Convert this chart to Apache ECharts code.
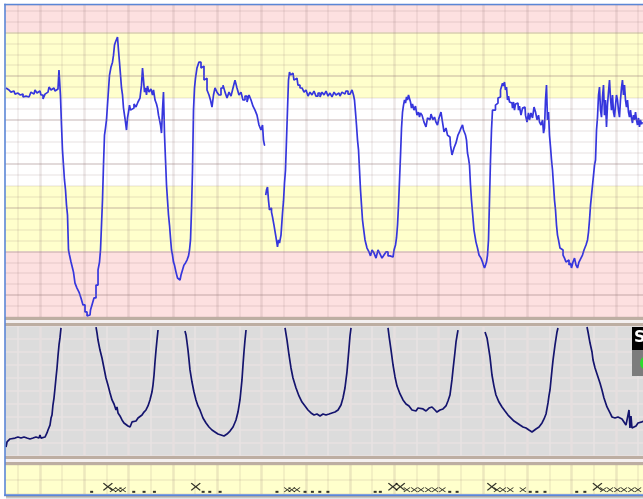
<!DOCTYPE html>
<html>
<head>
<meta charset="utf-8">
<style>
  html, body { margin: 0; padding: 0; background: #ffffff; }
  #chart { width: 643px; height: 499px; }
</style>
<script src="https://cdn.jsdelivr.net/npm/echarts@6/dist/echarts.min.js"></script>
</head>
<body>
<div id="chart"></div>
<script>
// Fetal heart rate, [time s, bpm]; null = signal loss
const fhrTrace = [
  [14,154.6],[16.7,153.7],[19.4,154.1],[22.1,152.7],[24.8,153.2],[27.5,151.8],[30.2,152.3],[33,151.4],[35.7,151.8],[38.4,150.5],[41.1,150.9],[43.8,150.5],[46.5,151.4],[49.2,152.7],[51.9,151.8],[54.6,153.7],[57.3,152.3],[60,153.2],[62.8,151.4],[65.5,149.6],[68.2,151.8],[70.9,152.7],[73.6,155],[76.3,153.7],[79,154.6],[81.7,153.2],[84.4,154.1],[87.1,162.8],[88.5,150.9],[89.8,137.7],[91.2,126.3],[92.5,119.4],[93.9,112.6],[95.3,108],[96.6,101.1],[98,96.6],[99.3,80.6],[100.7,78.3],[103.4,75.1],[104.7,72.4],[106.1,70.5],[108.8,65.5],[111.5,63.2],[114.2,61.4],[116.9,58.7],[119.6,55.5],[122.4,52.3],[125.1,50.5],[127.8,50.9],[129.1,53.2],[131.8,55.5],[134.5,58.7],[137.3,64.6],[140,71.5],[141.3,75.1],[142.7,80.6],[144,92],[145.4,103.4],[146.7,119.4],[148.1,133.1],[149.4,136.3],[150.8,140],[152.1,146.8],[153.5,153.7],[154.9,160.5],[157.6,164.2],[158.9,166.4],[160.3,169.6],[161.6,174.2],[163,175.6],[164.3,176.5],[165.7,177.9],[167,171.9],[168.4,166.4],[169.8,160.5],[171.1,154.6],[172.5,151.4],[173.8,145.4],[175.2,142.2],[176.5,139],[177.9,135.4],[179.2,140.9],[180.6,143.6],[182,146.8],[183.3,144.5],[184.7,143.6],[186,145.4],[188.7,147.3],[191.4,145.9],[194.1,148.2],[196.8,150],[198.2,155.9],[199.6,163.7],[200.9,158.2],[202.3,152.7],[203.6,154.6],[205,151.4],[206.3,155.5],[209,152.7],[211.7,154.1],[213.1,151.4],[214.5,153.7],[217.2,149.1],[218.5,147.3],[219.9,145.4],[221.2,142.2],[222.6,140],[223.9,137.7],[225.3,134],[226.6,144.5],[228,152.7],[229.4,133.1],[230.7,121.7],[232.1,110.3],[233.4,103.4],[234.8,96.6],[236.1,92],[237.5,86.1],[238.8,80.6],[240.2,78.3],[241.5,75.1],[242.9,73.7],[245.6,70.5],[247,67.8],[249.7,66.9],[252.4,69.2],[253.7,71.5],[256.4,73.7],[257.8,74.7],[260.5,76],[261.9,77.9],[263.2,80.6],[264.6,85.2],[265.9,98.9],[267.3,117.1],[268.6,144.5],[270,154.6],[271.3,159.1],[274,163.7],[276.7,166.4],[279.5,163.7],[280.8,164.6],[283.5,158.2],[284.9,159.1],[287.6,153.7],[290.3,151.4],[291.6,149.1],[294.4,145.9],[295.7,151.4],[298.4,154.6],[301.1,152.7],[303.8,151.4],[306.6,154.6],[309.3,155.9],[312,152.7],[314.7,150],[317.4,152.7],[320.1,150.9],[322.8,154.6],[325.5,158.2],[328.2,154.6],[330.9,151.4],[333.6,152.7],[336.3,149.1],[339.1,150.9],[341.8,148.2],[344.5,151.4],[347.2,149.1],[349.9,146.3],[352.6,144.5],[355.3,142.2],[358,137.7],[360.7,135.4],[362.1,137.7],[363.4,130.8],[364.8,128.5],
  [365.4,null],
  [366.1,105.7],[367.5,108],[368.8,109.4],[370.2,103.4],[371.5,98.9],[372.9,99.8],[374.3,97.9],[375.6,95.7],[378.3,92],[381,86.5],[382.4,82],[383.8,85.2],[385.1,83.8],[387.8,87.4],[389.2,97.5],[390.5,102.9],[391.9,111.2],[393.2,117.1],[394.6,130.8],[395.9,144.5],[397.3,158.2],[398.7,161.9],[400,160.5],[402.7,161.4],[405.4,158.2],[408.1,159.1],[410.8,155.9],[413.6,154.6],[416.3,155.5],[419,152.7],[421.7,153.7],[424.4,150.9],[427.1,152.7],[429.8,151.4],[432.5,153.2],[435.2,150.9],[438,152.3],[440.7,150.5],[443.4,152.7],[446.1,151.4],[448.8,153.2],[451.5,150.9],[454.2,152.3],[456.9,150.5],[459.6,152.7],[462.3,151.4],[465,152.3],[467.7,150.9],[470.4,152.7],[473.1,151.8],[475.8,153.2],[478.6,151.8],[481.3,152.7],[484,153.7],[485.3,151.4],[486.7,149.1],[488,143.6],[489.4,137.7],[490.8,130.8],[492.1,126.3],[493.5,117.1],[494.8,108],[496.2,101.1],[497.5,94.3],[498.9,90.6],[501.6,85.2],[504.3,81.5],[507,79.7],[508.4,77.9],[511.1,80.6],[513.8,79.2],[516.5,76.9],[519.2,80.6],[521.9,78.8],[524.6,76.9],[527.3,78.3],[530,79.7],[532.8,77.9],[535.5,78.8],[538.2,77.4],[540.9,80.6],[542.2,82.9],[543.6,86.1],[545,92],[546.3,101.1],[547.7,112.6],[549,124],[550.4,136.3],[551.7,143.6],[553.1,146.8],[554.4,149.1],[555.8,147.7],[557.1,150.5],[558.5,149.1],[559.8,151.4],[561.2,152.3],[562.5,148.2],[563.9,145.4],[565.2,147.3],[567.9,144.5],[569.3,146.3],[572,142.2],[573.4,143.6],[574.7,141.3],[576.1,143.2],[578.8,142.2],[581.5,139],[584.2,136.8],[585.6,140.9],[588.3,140],[591,142.7],[593.7,140],[595,141.3],[597.7,139],[599.1,137.7],[601.8,140.9],[604.5,143.6],[605.9,139],[608.6,134.5],[611.3,136.3],[612.6,133.1],[615.3,132.2],[616.7,128.5],[619.4,124],[622.1,127.2],[624.8,129.5],[627.5,133.1],[628.9,134.5],[631.6,136.3],[633,137.7],[634.3,135.4],[635.7,136.3],[637,133.1],[638.4,130.8],[639.7,124.9],[641.1,122.6],[642.4,119.4],[643.8,110.3],[645.1,103.4],[646.5,97.9],[649.2,89.7],[651.9,84.2],[653.3,81.5],[656,78.3],[658.7,76.9],[660,75.1],[661.4,73.7],[662.8,72.4],[664.1,73.7],[665.5,75.1],[666.8,78.3],[668.2,85.2],[669.5,103.4],[670.9,121.7],[672.2,135.4],[673.6,144.5],[674.9,145.4],[676.3,144.5],[677.6,146.8],[679,147.7],[681.7,150],[683.1,150.5],[684.4,153.7],[685.8,154.6],[687.1,156.8],[688.5,155.5],[689.8,157.3],[691.2,153.7],[692.6,155],[693.9,149.1],[695.3,150.9],[696.6,148.2],[699.3,147.7],[700.7,145.4],[702,148.2],[703.4,144.5],[704.7,147.3],[707.4,147.7],[708.8,144.5],[710.1,146.3],[712.9,142.2],[714.2,145.4],[716.9,145.9],[718.3,142.2],[721,139],[722.3,143.2],[723.7,140],[726.4,143.2],[727.8,140.9],[730.5,145.9],[731.9,143.6],[734.6,140],[735.9,142.2],[737.3,139],[740,137.7],[741.4,140],[742.7,134],[744,136.3],[745.4,149.1],[746.7,155.9],[748.1,140],[749.4,143.6],[750.8,133.1],[752.2,127.6],[753.5,121.7],[754.9,117.1],[756.2,110.3],[757.6,103.4],[758.9,98.9],[760.3,92],[761.6,87.4],[763,85.2],[765.7,81.5],[767.1,80.6],[769.8,78.3],[771.1,76.9],[773.8,75.1],[775.2,76],[777.9,73.7],[779.2,74.7],[780.6,72.4],[783.3,75.1],[784.7,76.9],[787.4,73.7],[788.7,72.4],[791.4,75.1],[794.1,76.9],[795.5,78.3],[798.2,80.6],[800.9,82.9],[802.3,85.2],[803.6,88.8],[805,94.3],[806.4,101.1],[807.7,105.7],[809.1,110.3],[810.4,114.8],[811.8,119.4],[813.1,121.7],[814.5,135.4],[815.8,141.3],[817.2,151.4],[818.5,155],[819.9,144.5],[821.2,141.3],[822.6,150.5],[823.9,155.9],[825.3,142.2],[826.6,149.1],[828,136.8],[829.3,146.8],[830.7,152.7],[832.1,158.2],[833.4,150],[834.8,144.5],[836.1,151.4],[837.5,143.6],[838.8,141.3],[840.2,146.8],[841.5,151.4],[842.9,149.1],[844.2,144.5],[845.6,141.3],[846.9,149.1],[848.3,154.6],[849.6,158.2],[851,151.4],[852.4,155.9],[853.7,149.1],[855.1,145.9],[856.4,149.1],[857.8,143.6],[859.1,141.3],[860.5,144.5],[861.8,140.9],[863.2,138.6],[864.5,142.2],[865.9,140],[867.3,143.6],[868.6,140],[870,137.7],[871.3,140.9],[872.7,136.8],[874,140],[875.4,138.1],[876.8,139]
];

// Uterine activity, [time s, value]; null where the trace runs off scale
const ucTrace = [
  [14,6.9],[15.4,10.8],[16.7,12.3],[19.4,13.1],[22.1,12.3],[26.2,13.8],[30.2,14.6],[34.3,13.8],[38.4,14.6],[42.4,13.8],[46.5,13.1],[50.6,13.8],[54.6,14.6],[58.7,13.8],[60,16.2],[61.4,13.8],[64.1,13.1],[66.8,14.6],[69.5,17.7],[70.9,20],[73.6,23.8],[75,29.2],[76.3,31.5],[77.6,39.2],[79,44.6],[80.4,52.3],[81.7,60],[83.1,67.7],[84.4,76.9],[85.8,85.4],[87.1,90.8],[88.5,98.5],
  [110,null],
  [135.9,99.2],[137.3,94.6],[138.6,89.2],[141.3,81.5],[144,75.4],[146.7,67.7],[149.4,60],[152.1,54.6],[154.9,48.5],[157.6,43.1],[160.3,40],[163,35.4],[164.3,37.7],[165.7,33.1],[168.4,30.8],[171.1,27.7],[173.8,25.4],[176.5,24.6],[179.2,23.1],[182,22.3],[183.3,21.5],[184.7,26.2],[187.4,27.7],[190.1,26.9],[192.8,29.2],[195.5,30],[198.2,31.5],[200.9,33.8],[203.6,35.4],[206.3,38.5],[209,43.1],[211.7,49.2],[213.1,54.6],[214.5,62.3],[215.8,72.3],[217.2,81.5],[218.5,89.2],[219.9,96.9],
  [235,null],
  [256.4,96.2],[257.8,93.1],[259.1,87.7],[260.5,81.5],[261.9,73.8],[263.2,66.2],[265.9,56.9],[268.6,49.2],[271.3,43.1],[274,38.5],[276.7,35.4],[280.8,29.2],[284.9,25.4],[288.9,22.3],[293,20],[297,18.5],[301.1,16.9],[305.2,16.2],[309.3,15.4],[313.3,16.9],[317.4,19.2],[321.5,22.3],[325.5,27.7],[328.2,33.8],[330.9,43.1],[333.6,58.5],[335,70],[336.3,80],[337.7,89.2],[339.1,96.9],
  [360,null],
  [391.9,98.5],[394.6,89.2],[397.3,77.7],[400,67.7],[402.7,60],[406.8,52.3],[410.8,46.2],[414.9,41.5],[419,38.5],[423,35.4],[427.1,33.1],[431.2,31.5],[435.2,32.3],[439.3,30.8],[443.4,32.3],[447.4,31.5],[451.5,32.3],[455.5,33.1],[459.6,33.8],[463.7,35.4],[467.7,39.2],[470.4,44.6],[473.1,52.3],[475.8,64.6],[477.2,73.8],[478.6,83.1],[479.9,92.3],[481.3,98.5],
  [500,null],
  [531.4,98.5],[532.8,92.3],[535.5,81.5],[538.2,70],[540.9,60.8],[543.6,53.8],[547.7,47.7],[551.7,43.1],[555.8,40],[559.8,38.5],[563.9,35.4],[566.6,36.9],[569.3,34.6],[572,36.9],[574.7,35.4],[578.8,36.2],[582.9,34.6],[586.9,36.9],[591,37.7],[595,35.4],[597.7,33.8],[601.8,35.4],[605.9,36.2],[609.9,38.5],[612.6,42.3],[615.3,46.9],[618,58.5],[619.4,66.2],[622.1,80],[623.5,87.7],[624.8,92.3],[626.2,96.9],
  [640,null],
  [662.8,95.4],[665.5,90.8],[666.8,86.2],[669.5,76.2],[672.2,62.3],[674.9,53.8],[677.6,46.9],[681.7,41.5],[685.8,37.7],[689.8,34.6],[693.9,31.5],[698,29.2],[702,26.9],[706.1,25.4],[710.1,23.8],[714.2,22.3],[718.3,21.5],[722.3,20],[726.4,18.5],[729.1,19.2],[731.8,20.8],[735.9,22.3],[740,25.4],[742.7,28.5],[745.4,32.3],[748.1,40.8],[749.4,46.2],[750.8,50.8],[753.5,66.2],[754.9,73.8],[757.6,85.4],[760.3,95.4],[761.6,98.5],
  [780,null],
  [800.9,99.2],[802.3,95.4],[805,86.9],[807.7,80],[809.1,73.8],[811.8,67.7],[815.8,60.8],[818.5,56.2],[821.2,50.8],[823.9,44.6],[828,37.7],[832.1,33.1],[834.8,30],[838.8,29.2],[842.9,30],[845.6,30],[848.3,28.5],[851,26.2],[853.7,23.8],[856.4,24.6],[857.8,35.4],[859.1,21.5],[860.5,30.8],[861.8,21.5],[864.5,22.3],[867.3,23.1],[870,25.4],[872.7,24.6],[875.4,26.2],[876.8,26.9]
];

// Fetal movement marks (time s)
const movementMajor = [152, 271, 538, 548, 672, 815];
const movementMinor = [159, 166, 172, 395, 401, 408, 557, 567, 576, 586, 595, 605, 679, 687, 697, 714, 823, 832, 842, 851, 861, 870];
const movementDots = [130, 187, 201, 215, 281, 290, 304, 381, 419, 429, 439, 450, 514, 521, 615, 625, 724, 733, 744, 787, 798];

// Heart-rate zone limits (bpm) and heavier gridline levels
const fhrZoneLimits = [80, 110, 150, 180];
const fhrMajorLines = [60, 80, 100, 120, 140, 160, 180];

// Scale constants
const FHR_MIN = 50, FHR_MAX = 192.5, FHR_STEP = 5;
const X_MAX = 900;                 // seconds spanned by the time axis
const PX_PER_SEC = 44.3 / 60;      // paper speed
const START_SEC = 14;              // time at the left edge of the strip
const STRIP_LEFT = 6;
const gridLeft = STRIP_LEFT - START_SEC * PX_PER_SEC;
const gridWidth = X_MAX * PX_PER_SEC;

// Zone colours per 5-bpm band (bottom to top)
const zoneColors = ['#fde0e0', '#ffffcc', '#ffffff', '#ffffcc', '#fde0e0'];
const bandColors = [];
for (let v = FHR_MIN; v < FHR_MAX; v += FHR_STEP) {
  let zone = 0;
  while (zone < fhrZoneLimits.length && v >= fhrZoneLimits[zone]) zone++;
  bandColors.push(zoneColors[zone]);
}

const LINE_THIN = 'rgba(150,120,120,0.14)';
const LINE_THICK = 'rgba(150,120,120,0.18)';

function timeAxis(gridIndex, thin, thick) {
  return {
    type: 'value', gridIndex: gridIndex, min: 0, max: X_MAX, interval: 60, z: 1,
    axisLine: { show: false }, axisTick: { show: false }, axisLabel: { show: false },
    splitLine: { show: true, lineStyle: { color: thick, width: 2.5 } },
    minorTick: { show: false, splitNumber: 2 },
    minorSplitLine: { show: true, lineStyle: { color: thin, width: 1.5 } }
  };
}

function valueAxis(gridIndex, min, max, interval, color, extra) {
  return Object.assign({
    type: 'value', gridIndex: gridIndex, min: min, max: max, interval: interval,
    axisLine: { show: false }, axisTick: { show: false }, axisLabel: { show: false },
    splitLine: { show: true, lineStyle: { color: color, width: 1.5 } }
  }, extra || {});
}

const xPath = 'path://M0,1L1,0L5,4L9,0L10,1L6,5L10,9L9,10L5,6L1,10L0,9L4,5Z';

const chart = echarts.init(document.getElementById('chart'), null, { renderer: 'canvas' });

const gridBase = { left: gridLeft, width: gridWidth, outerBoundsMode: 'none', containLabel: false };

chart.setOption({
  animation: false,
  backgroundColor: '#ffffff',
  grid: [
    Object.assign({ top: 5, height: 312 }, gridBase),
    Object.assign({ top: 326, height: 130, show: true, backgroundColor: '#dcdcdc', borderWidth: 0 }, gridBase),
    Object.assign({ top: 465, height: 29, show: true, backgroundColor: '#ffffcc', borderWidth: 0 }, gridBase)
  ],
  xAxis: [
    timeAxis(0, LINE_THIN, LINE_THICK),
    timeAxis(1, '#e8e2e2', '#e6dfdf'),
    timeAxis(2, LINE_THIN, LINE_THICK)
  ],
  yAxis: [
    valueAxis(0, FHR_MIN, FHR_MAX, FHR_STEP, LINE_THIN, {
      splitArea: { show: true, areaStyle: { color: bandColors } }
    }),
    valueAxis(1, 0, 100, 10, '#e8e2e2'),
    valueAxis(2, 0, 2, 1, LINE_THIN)
  ],
  series: [
    {
      name: 'fhr-grid', type: 'line', xAxisIndex: 0, yAxisIndex: 0, data: [], z: 1, silent: true,
      markLine: {
        silent: true, symbol: 'none', animation: false,
        label: { show: false },
        lineStyle: { type: 'solid', color: LINE_THICK, width: 2 },
        data: fhrMajorLines.map(function (v) { return { yAxis: v }; })
      }
    },
    {
      name: 'FHR', type: 'line', xAxisIndex: 0, yAxisIndex: 0, data: fhrTrace,
      step: 'middle', showSymbol: false, connectNulls: false, z: 3, silent: true,
      lineStyle: { color: '#3636dd', width: 1.7 }
    },
    {
      name: 'UC', type: 'line', xAxisIndex: 1, yAxisIndex: 1, data: ucTrace,
      showSymbol: false, connectNulls: false, z: 3, silent: true,
      lineStyle: { color: '#14146e', width: 1.7 }
    },
    {
      name: 'movement', type: 'scatter', xAxisIndex: 2, yAxisIndex: 2, z: 3, silent: true,
      symbol: xPath, symbolSize: [10, 8],
      itemStyle: { color: '#000000' },
      data: movementMajor.map(function (t) { return [t, 0.5]; })
    },
    {
      name: 'movement-minor', type: 'scatter', xAxisIndex: 2, yAxisIndex: 2, z: 3, silent: true,
      symbol: xPath, symbolSize: [7, 5],
      itemStyle: { color: '#000000' },
      data: movementMinor.map(function (t) { return [t, 0.3]; })
    },
    {
      name: 'movement-dot', type: 'scatter', xAxisIndex: 2, yAxisIndex: 2, z: 3, silent: true,
      symbol: 'rect', symbolSize: [3, 2],
      itemStyle: { color: '#000000' },
      data: movementDots.map(function (t) { return [t, 0.15]; })
    }
  ],
  graphic: [
    // margin left of the frame
    { type: 'rect', shape: { x: 0, y: 0, width: 5, height: 499 }, style: { fill: '#ffffff' }, z: 100, silent: true },
    // panel separators
    { type: 'rect', shape: { x: 5, y: 317, width: 640, height: 3 }, style: { fill: '#bdaea2' }, z: 100, silent: true },
    { type: 'rect', shape: { x: 5, y: 320, width: 640, height: 3 }, style: { fill: '#f4f0f0' }, z: 100, silent: true },
    { type: 'rect', shape: { x: 5, y: 323, width: 640, height: 3 }, style: { fill: '#bdaea2' }, z: 100, silent: true },
    { type: 'rect', shape: { x: 5, y: 456, width: 640, height: 3 }, style: { fill: '#bdaea2' }, z: 100, silent: true },
    { type: 'rect', shape: { x: 5, y: 459, width: 640, height: 3 }, style: { fill: '#f4f0f0' }, z: 100, silent: true },
    { type: 'rect', shape: { x: 5, y: 462, width: 640, height: 3 }, style: { fill: '#bdaea2' }, z: 100, silent: true },
    // outer frame
    { type: 'rect', shape: { x: 4.2, y: 3.8, width: 1.6, height: 492.5 }, style: { fill: '#5b86d6' }, z: 101, silent: true },
    { type: 'rect', shape: { x: 4.2, y: 3.8, width: 640, height: 1.4 }, style: { fill: '#5b86d6' }, z: 101, silent: true },
    { type: 'rect', shape: { x: 4.2, y: 494.3, width: 640, height: 1.7 }, style: { fill: '#5b86d6' }, z: 101, silent: true },
    {
      type: 'rect', shape: { x: 6, y: 496, width: 640, height: 3 }, z: 101, silent: true,
      style: { fill: new echarts.graphic.LinearGradient(0, 0, 0, 1, [
        { offset: 0, color: '#9a9a9a' }, { offset: 1, color: '#f2f2f2' }
      ]) }
    },
    // status badge at the right edge
    { type: 'rect', shape: { x: 632, y: 327, width: 14, height: 23 }, style: { fill: '#000000' }, z: 102, silent: true },
    { type: 'text', x: 634, y: 330, style: { text: 'S', fill: '#ffffff', font: 'bold 16px "DejaVu Sans", sans-serif' }, z: 103, silent: true },
    { type: 'rect', shape: { x: 632, y: 350, width: 14, height: 26 }, style: { fill: '#7c7c7c' }, z: 102, silent: true },
    { type: 'circle', shape: { cx: 647, cy: 363, r: 7 }, style: { fill: '#2bdc2b' }, z: 103, silent: true }
  ]
});
</script>
</body>
</html>
